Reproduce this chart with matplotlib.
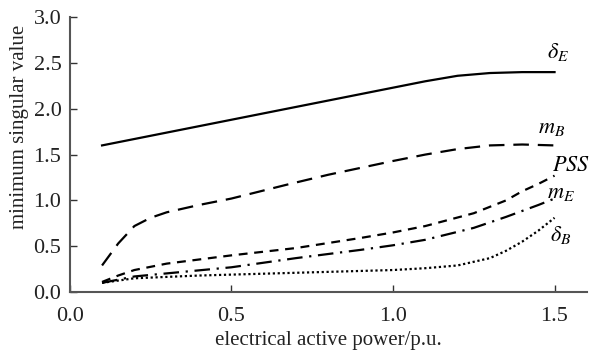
import matplotlib
matplotlib.use("Agg")
import matplotlib.pyplot as plt

plt.rcParams['font.family'] = ['Liberation Serif', 'DejaVu Serif']
plt.rcParams['mathtext.fontset'] = 'stix'

# values
p_dE = [0.1, 0.3, 0.5, 0.7, 0.9, 1.1, 1.2, 1.3, 1.4, 1.5]
v_dE = [1.6, 1.74, 1.88, 2.02, 2.16, 2.3, 2.36, 2.39, 2.40, 2.40]

p_mB = [0.1, 0.15, 0.2, 0.25, 0.3, 0.4, 0.5, 0.67, 0.8, 1.0, 1.1, 1.2, 1.3, 1.4, 1.5]
v_mB = [0.29, 0.53, 0.72, 0.81, 0.87, 0.95, 1.02, 1.17, 1.28, 1.43, 1.5, 1.56, 1.6, 1.61, 1.6]

p_pss = [0.1, 0.15, 0.2, 0.3, 0.5, 0.7, 0.9, 1.0, 1.1, 1.25, 1.35, 1.4, 1.45, 1.5]
v_pss = [0.11, 0.18, 0.24, 0.31, 0.4, 0.48, 0.59, 0.65, 0.72, 0.86, 1.0, 1.1, 1.18, 1.27]

p_mE = [0.1, 0.2, 0.35, 0.5, 0.7, 0.9, 1.0, 1.1, 1.25, 1.35, 1.45, 1.5]
v_mE = [0.1, 0.17, 0.22, 0.27, 0.37, 0.46, 0.51, 0.57, 0.7, 0.82, 0.95, 1.02]

p_dB = [0.1, 0.2, 0.4, 0.6, 0.8, 1.0, 1.1, 1.2, 1.3, 1.35, 1.4, 1.45, 1.5]
v_dB = [0.1, 0.15, 0.18, 0.2, 0.22, 0.24, 0.26, 0.29, 0.37, 0.45, 0.55, 0.67, 0.81]

fig = plt.figure(figsize=(5.91, 3.57), dpi=100)
ax = fig.add_axes([0.118, 0.182, 0.875, 0.770])

lw = 1.6
ax.plot(p_dE, v_dE, color='black', lw=lw, linestyle='-')
ax.plot(p_mB, v_mB, color='black', lw=lw, linestyle=(0, (7, 4)))
ax.plot(p_pss, v_pss, color='black', lw=lw, linestyle=(0, (4, 3)))
ax.plot(p_mE, v_mE, color='black', lw=lw, linestyle=(0, (7, 3, 1, 3)))
ax.plot(p_dB, v_dB, color='black', lw=lw, linestyle=(0, (1, 1.2)))

kw = dict(fontsize=16, color='black', ha='center', va='center')
ax.text(1.51, 2.62, r'$\delta_E$', **kw)
ax.text(1.49, 1.78, r'$m_B$', **kw)
ax.text(1.55, 1.37, r'$PSS$', **kw)
ax.text(1.52, 1.08, r'$m_E$', **kw)
ax.text(1.52, 0.62, r'$\delta_B$', **kw)

ax.set_xlim(0.0, 1.6)
ax.set_ylim(0.0, 3.0)
ax.set_xticks([0.0, 0.5, 1.0, 1.5])
ax.set_yticks([0.0, 0.5, 1.0, 1.5, 2.0, 2.5, 3.0])
ax.tick_params(direction='in', labelsize=16, length=5, width=1,
               colors='#333333', labelcolor='#222222')
ax.tick_params(axis='x', pad=11)
ax.tick_params(axis='y', pad=6)
for s in ['top', 'right']:
    ax.spines[s].set_visible(False)
for s in ['left', 'bottom']:
    ax.spines[s].set_linewidth(1.5)
    ax.spines[s].set_color('#555555')

ax.set_xlabel('electrical active power/p.u.', fontsize=15, color='#222222')
ax.xaxis.set_label_coords(0.5, -0.14)
ax.set_ylabel('minimum singular value', fontsize=15, color='#222222')
ax.yaxis.set_label_coords(-0.078, 0.6)

fig.savefig('out.png', dpi=100)
